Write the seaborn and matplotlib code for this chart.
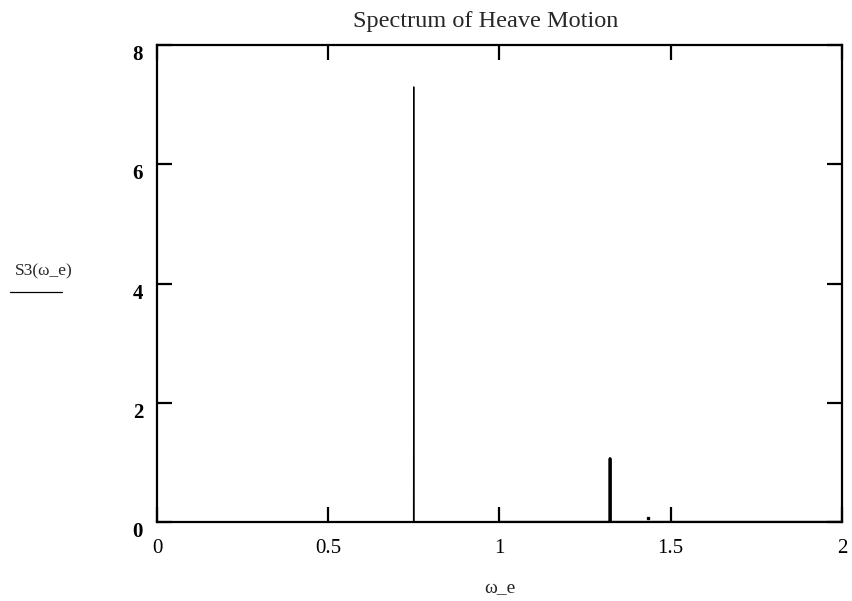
import numpy as np
import pandas as pd
import seaborn as sns
import matplotlib.pyplot as plt
from matplotlib.lines import Line2D

# ----------------------------
# DATA
# ----------------------------

# thin trace: narrow peak near omega_e = 0.75
omega_a = [0.0, 0.749, 0.75, 0.751, 1.0]
s3_a = [0.0, 0.0, 7.3, 0.0, 0.0]

# thick trace: 1 .. 2 with a small peak near 1.32
omega_b = [1.0, 1.322, 1.323, 1.324, 2.0]
s3_b = [0.0, 0.0, 1.07, 0.0, 0.0]

# stray dot
dot_omega = [1.434]
dot_s3 = [0.07]

x_ticks = [0, 0.5, 1, 1.5, 2]
x_labels = ["0", "0.5", "1", "1.5", "2"]
y_ticks = [0, 2, 4, 6, 8]
y_labels = ["0", "2", "4", "6", "8"]

df_a = pd.DataFrame({"omega_e": omega_a, "S3": s3_a})
df_b = pd.DataFrame({"omega_e": omega_b, "S3": s3_b})

# ----------------------------
# PLOT
# ----------------------------

sns.set_style("white")
plt.rcParams["font.family"] = ["Liberation Serif", "DejaVu Serif"]

fig = plt.figure(figsize=(8.53, 6.01), dpi=100)
ax = fig.add_axes([0.184, 0.131, 0.803, 0.794])

sns.lineplot(data=df_a, x="omega_e", y="S3", ax=ax, color="black",
             linewidth=0.8, sort=False, estimator=None)
sns.lineplot(data=df_b, x="omega_e", y="S3", ax=ax, color="black",
             linewidth=2.0, sort=False, estimator=None)
ax.plot(dot_omega, dot_s3, marker="s", markersize=1.5, color="black",
        linestyle="none")

ax.set_xlim(0, 2)
ax.set_ylim(0, 8)
ax.set_xticks(x_ticks)
ax.set_xticklabels(x_labels)
ax.set_yticks(y_ticks)
ax.set_yticklabels(y_labels)
ax.tick_params(axis="x", direction="in", length=11, width=1.6, top=True,
               bottom=True, labelsize=15, pad=12, colors="black")
ax.tick_params(axis="y", direction="in", length=11, width=1.6, right=True,
               left=True, labelsize=15, pad=10, colors="black")
for lab in ax.get_yticklabels():
    lab.set_fontweight("bold")
    lab.set_va("top")

for sp in ax.spines.values():
    sp.set_visible(True)
    sp.set_color("black")
    sp.set_linewidth(1.6)

ax.set_xlabel("ω_e", fontsize=14, labelpad=16)
ax.set_ylabel("")
fig.text(0.569, 0.965, "Spectrum of Heave Motion", fontsize=17.5,
         ha="center", va="center")

# Mathcad style y label with underline
fig.text(0.018, 0.548, "S3(ω_e)", fontsize=12.5, ha="left", va="center")
fig.add_artist(Line2D([0.012, 0.073], [0.514, 0.514], color="black",
                      linewidth=0.9, transform=fig.transFigure))

plt.savefig("out.png", dpi=100)
